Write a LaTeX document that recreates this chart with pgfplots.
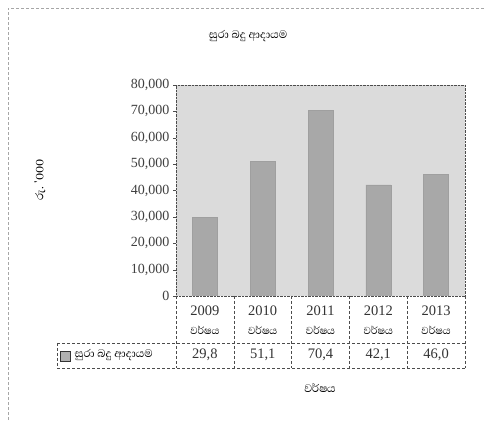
\documentclass[border=0pt]{standalone}
\usepackage{fontspec}
\setmainfont{Liberation Serif}
\newfontfamily\sinhfont[Script=Sinhala]{Abhaya Libre}
\usepackage{pgfplots}
\pgfplotsset{compat=1.18}
\begin{document}
\begin{tikzpicture}[x=1pt,y=1pt]
\useasboundingbox (0,0) rectangle (484,420);
% outer frame
\draw[gray!70, densely dashed] (8,-20) -- (8,412) -- (500,412);
\node[font=\sinhfont\fontsize{14}{15}\selectfont] at (248,384) {සුරා බදු ආදායම};
\begin{axis}[
    at={(176pt,124pt)}, anchor=south west,
    scale only axis, width=289pt, height=211pt,
    ymin=0, ymax=80000,
    ytick={0,10000,...,80000},
    xmin=-0.5, xmax=4.5,
    xtick=\empty,
    axis line style={gray!60!black, densely dotted},
    axis background/.style={fill=gray!28},
    tick align=outside, ytick pos=left,
    major tick length=3pt,
    tick style={gray!60!black},
    scaled y ticks=false,
    yticklabel style={font=\fontsize{14}{15}\selectfont, text=black!75},
    /pgf/number format/assume math mode=true,
    /pgf/number format/.cd, 1000 sep={,},
]
\addplot[ybar, bar width=25pt, fill=gray!68, draw=gray!75] coordinates {
  (0,29800) (1,51100) (2,70400) (3,42100) (4,46000)};
\end{axis}
% data table below the axis
\begin{scope}[gray!60!black, densely dashed, line width=0.4pt]
\foreach \k in {0,...,5} {\draw (176+57.8*\k,124) -- (176+57.8*\k,52);}
\draw (57,77) -- (465,77);
\draw (57,52) -- (465,52);
\draw (57,77) -- (57,52);
\end{scope}
\foreach \yr [count=\i from 0] in {2009,2010,2011,2012,2013} {
  \node[font=\fontsize{14.5}{15}\selectfont, text=black!80] at (176+28.9+57.8*\i,109) {\yr};
  \node[font=\sinhfont\fontsize{13}{14}\selectfont] at (176+28.9+57.8*\i,90) {වර්ෂය};
}
\foreach \v [count=\i from 0] in {29{,}8,51{,}1,70{,}4,42{,}1,46{,}0} {
  \node[font=\fontsize{14.5}{15}\selectfont, text=black!80] at (176+28.9+57.8*\i,65) {\v};
}
\fill[gray!62, draw=gray!40!black] (60,59) rectangle (70,69);
\node[font=\sinhfont\fontsize{14}{15}\selectfont, anchor=west] at (71,64.5) {සුරා බදු ආදායම};
\node[font=\sinhfont\fontsize{14}{15}\selectfont] at (320,32) {වර්ෂය};
\node[font=\sinhfont\fontsize{14}{15}\selectfont, rotate=90] at (40,240) {රු. '000};
\end{tikzpicture}
\end{document}
